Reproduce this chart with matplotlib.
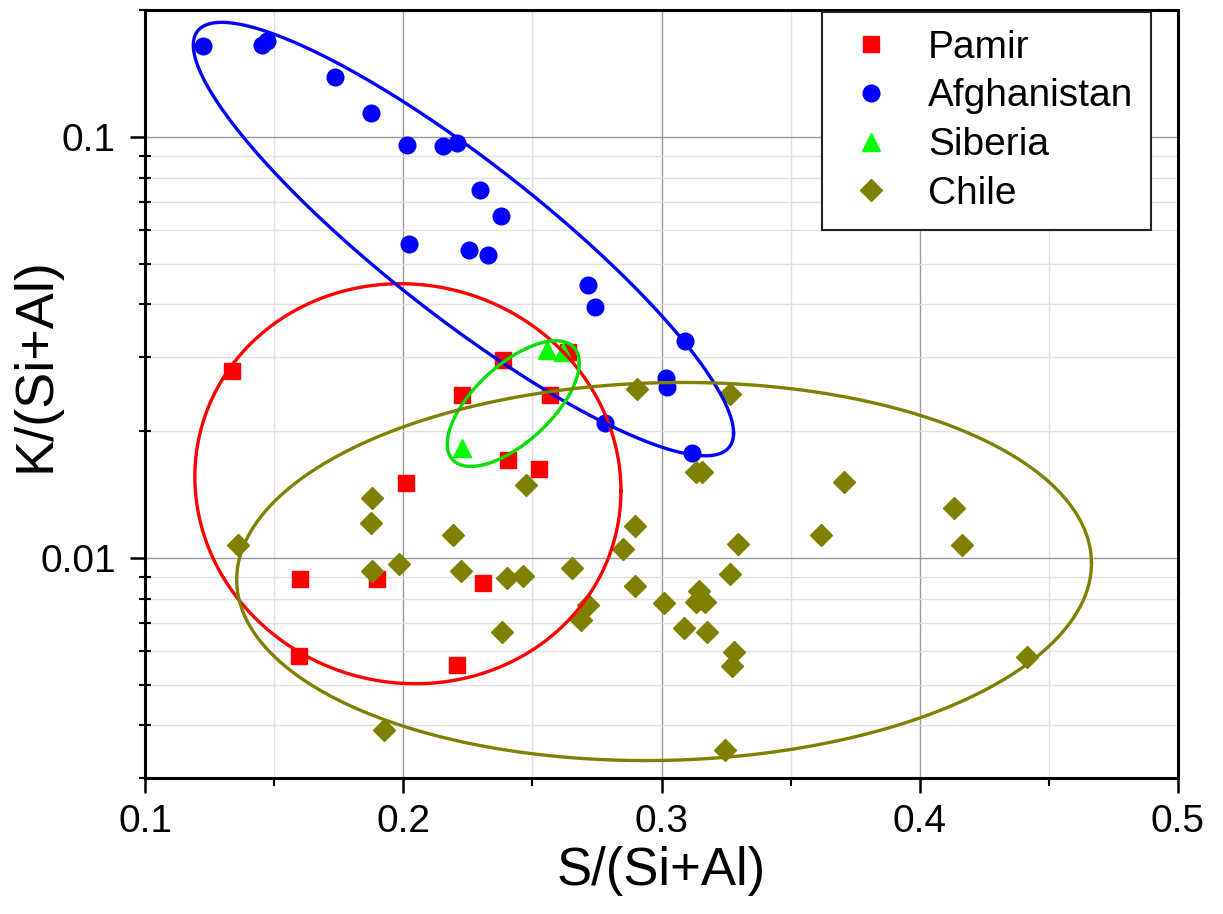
import matplotlib
matplotlib.use("Agg")
import matplotlib.pyplot as plt
import numpy as np
from matplotlib.ticker import MultipleLocator, LogLocator, NullFormatter, FixedLocator

plt.rcParams['font.family'] = ['Liberation Sans', 'DejaVu Sans']

# S/(Si+Al) and K/(Si+Al)
pamir_x = [0.1337, 0.2386, 0.2638, 0.2226, 0.2568, 0.2407, 0.2526,
           0.2009, 0.160, 0.190, 0.231, 0.1598, 0.2207]
pamir_y = [0.0278, 0.0295, 0.0309, 0.0244, 0.0244, 0.0171, 0.01625,
           0.01505, 0.00891, 0.00889, 0.00871, 0.00585, 0.00557]

afgh_x = [0.1223, 0.1452, 0.1471, 0.1736, 0.1874, 0.2016, 0.2155, 0.2207,
          0.2297, 0.2379, 0.2024, 0.2256, 0.2327, 0.2717, 0.2743, 0.3090,
          0.3016, 0.3021, 0.2780, 0.3117]
afgh_y = [0.1645, 0.1654, 0.169, 0.1387, 0.1138, 0.0956, 0.0952, 0.0969,
          0.0748, 0.0649, 0.0556, 0.0537, 0.0524, 0.0445, 0.0395, 0.0328,
          0.0267, 0.0255, 0.0209, 0.01773]

siberia_x = [0.2226, 0.2555, 0.2620]
siberia_y = [0.01825, 0.0312, 0.0309]

chile_x = [0.1361, 0.1878, 0.1874, 0.1880, 0.1985, 0.2194, 0.2222, 0.2403,
           0.2462, 0.2381, 0.2475, 0.2652, 0.2717, 0.2687, 0.2852, 0.2897,
           0.2897, 0.2905, 0.1927, 0.3267, 0.3134, 0.3158, 0.3705, 0.4132,
           0.4162, 0.3616, 0.3297, 0.3264, 0.3010, 0.3146, 0.3134, 0.3168,
           0.3087, 0.3178, 0.3282, 0.3272, 0.4414, 0.3247]
chile_y = [0.01074, 0.01386, 0.01209, 0.00928, 0.00968, 0.0113, 0.00933,
           0.00898, 0.00903, 0.00668, 0.0149, 0.00945, 0.00774, 0.0071,
           0.01049, 0.01187, 0.00858, 0.0252, 0.0039, 0.0245, 0.01595,
           0.01595, 0.01518, 0.01312, 0.0107, 0.01134, 0.0108, 0.00915,
           0.0078, 0.00836, 0.00787, 0.00787, 0.00683, 0.00668, 0.00596,
           0.00552, 0.00583, 0.0035]

# group ellipses in (x, log10 y): centre, half extents, phase of the y swing
ell_cx = [0.2018, 0.2233, 0.2426, 0.3010]
ell_rx = [0.0825, 0.1046, 0.02556, 0.1655]
ell_cly = [-1.824, -1.243, -1.6337, -2.0325]
ell_rly = [0.475, 0.5147, 0.1492, 0.449]
ell_phase = [92, 153.5, 50, 87.5]
ell_colors = ['#ff0000', '#0000ff', '#00e000', '#808000']

fig = plt.figure(figsize=(12.23, 9.14), dpi=100)
ax = fig.add_axes([145 / 1223, 1 - 778 / 914, (1178 - 145) / 1223, (778 - 10) / 914])

ax.plot(pamir_x, pamir_y, marker='s', ms=11, color='#ff0000', linestyle='', label='Pamir', zorder=3)
ax.plot(afgh_x, afgh_y, marker='o', ms=12, color='#0000ff', linestyle='', label='Afghanistan', zorder=3)
ax.plot(siberia_x, siberia_y, marker='^', ms=13, color='#00ff00', linestyle='', label='Siberia', zorder=3)
ax.plot(chile_x, chile_y, marker='D', ms=11, color='#808000', linestyle='', label='Chile', zorder=3)

t = np.linspace(0, 2 * np.pi, 400)
for cx, rx, cly, rly, ph, c in zip(ell_cx, ell_rx, ell_cly, ell_rly, ell_phase, ell_colors):
    ex = cx + rx * np.cos(t)
    ely = cly + rly * np.cos(t - np.deg2rad(ph))
    ax.plot(ex, 10 ** ely, color=c, lw=2.4, zorder=4)

ax.set_yscale('log')
ax.set_xlim(0.1, 0.5)
ax.set_ylim(0.003, 0.2)

ax.xaxis.set_major_locator(MultipleLocator(0.1))
ax.xaxis.set_minor_locator(MultipleLocator(0.05))
ax.yaxis.set_major_locator(FixedLocator([0.01, 0.1]))
ax.yaxis.set_minor_locator(LogLocator(base=10, subs=np.arange(2, 10)))
ax.yaxis.set_minor_formatter(NullFormatter())
ax.set_yticklabels(['0.01', '0.1'])

ax.grid(which='major', color='#999999', lw=1.0)
ax.grid(which='minor', color='#e0e0e0', lw=1.0)
ax.set_axisbelow(True)

for s in ax.spines.values():
    s.set_linewidth(2.2)
ax.tick_params(which='major', direction='out', length=11, width=1.8, labelsize=28, pad=8)
ax.tick_params(axis='y', which='major', pad=10)
ax.tick_params(axis='x', which='minor', direction='out', length=6, width=1.5)
ax.tick_params(axis='y', which='minor', direction='inout', length=8, width=1.5)

ax.set_xlabel('S/(Si+Al)', fontsize=38)
ax.set_ylabel('K/(Si+Al)', fontsize=39)
ax.xaxis.set_label_coords(0.5, -0.088)
ax.yaxis.set_label_coords(-0.082, 0.538)

leg = ax.legend(loc='upper left', bbox_to_anchor=(822 / 1223, 1 - 12 / 914),
                bbox_transform=fig.transFigure, borderaxespad=0,
                fontsize=28, frameon=True, fancybox=False,
                handletextpad=0.68, borderpad=0.45, labelspacing=0.33,
                handlelength=1.6, markerscale=1.0)
leg.get_frame().set_edgecolor('#222222')
leg.get_frame().set_linewidth(1.5)
leg.get_frame().set_alpha(1)

fig.savefig('out.png', dpi=100)
